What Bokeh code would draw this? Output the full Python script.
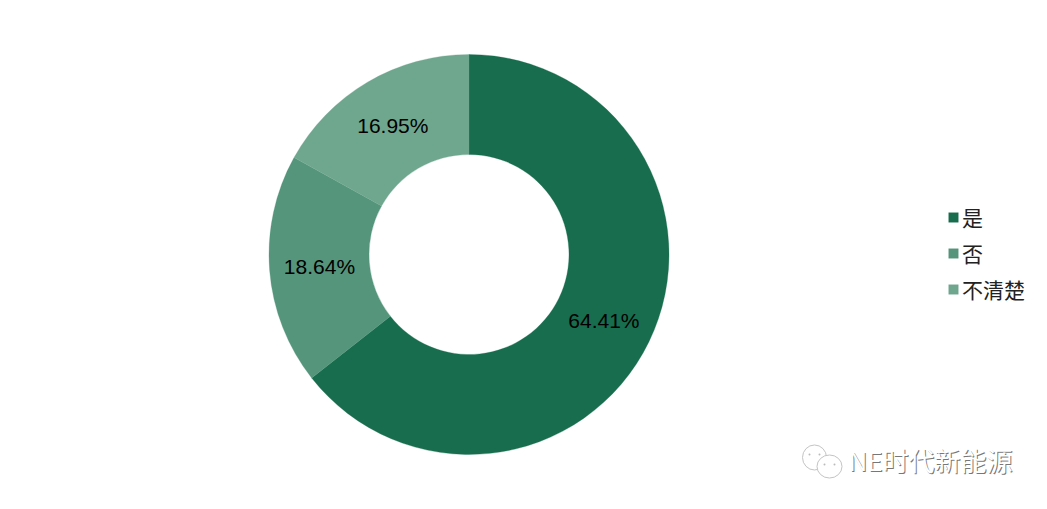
import math
from bokeh.plotting import figure
from bokeh.embed import file_html
from bokeh.resources import INLINE
from bokeh.models import ColumnDataSource, Legend, LegendItem
from bokeh.core.properties import value

categories = ["是", "否", "不清楚"]
values = [64.41, 18.64, 16.95]
colors = ["#176D4E", "#54957C", "#6FA68E"]
watermark = "NE时代新能源"

W, H = 1031, 493
p = figure(width=W, height=H, x_range=(0, 1031), y_range=(16, 509),
           output_backend="svg", toolbar_location=None, min_border=0)
p.axis.visible = False
p.grid.visible = False
p.outline_line_color = None
p.background_fill_color = "white"
p.border_fill_color = "white"

cx, cy, r0, r1 = 468.5, 255, 100, 200
total = sum(values)
starts, ends, lx, ly, labels = [], [], [], [], []
c = 0.0
for v in values:
    a0 = math.pi / 2 - 2 * math.pi * c / total
    a1 = math.pi / 2 - 2 * math.pi * (c + v) / total
    m = (a0 + a1) / 2
    starts.append(a0); ends.append(a1)
    lx.append(cx + (r0 + r1) / 2 * math.cos(m))
    ly.append(cy + (r0 + r1) / 2 * math.sin(m))
    labels.append(f"{v:.2f}%")
    c += v

src = ColumnDataSource(dict(s=starts, e=ends, color=colors, cat=categories))
w = p.annular_wedge(x=cx, y=cy, inner_radius=r0, outer_radius=r1,
                    start_angle="s", end_angle="e", direction="clock",
                    fill_color="color", line_color="color", line_width=0.3, source=src)

p.text(x=lx, y=ly, text=labels, text_font=value("Liberation Sans"), text_font_size="21px",
       text_color="#000000", text_align="center", text_baseline="middle")

legend = Legend(items=[LegendItem(label=categories[i], renderers=[w], index=i) for i in range(3)],
                location=(947, 189), orientation="vertical",
                glyph_width=12, glyph_height=12, label_height=18, label_width=60,
                spacing=6, padding=0, margin=0, border_line_color=None,
                background_fill_alpha=0,
                label_text_font="Noto Sans CJK SC", label_text_font_size="21px",
                label_text_color="#222222", label_standoff=3)
p.add_layout(legend, "center")

# watermark: icon outlines and shadowed white text
p.ellipse(x=[814, 829], y=[52, 43], width=[24, 25], height=[25, 23],
          fill_color="white", line_color="#C4C4C4", line_width=1)
p.scatter(x=[809, 819, 824, 834], y=[55, 55, 45, 45], size=2, marker="circle",
          fill_color="#BBBBBB", line_color=None)
p.text(x=[849], y=[49], text=[watermark], text_font=value("Noto Sans CJK SC"), text_font_size="26px",
       text_color="#777777", text_align="left", text_baseline="middle")
p.text(x=[848], y=[50], text=[watermark], text_font=value("Noto Sans CJK SC"), text_font_size="26px",
       text_color="#FFFFFF", text_align="left", text_baseline="middle")

open("out.html", "w").write(file_html(p, INLINE))
